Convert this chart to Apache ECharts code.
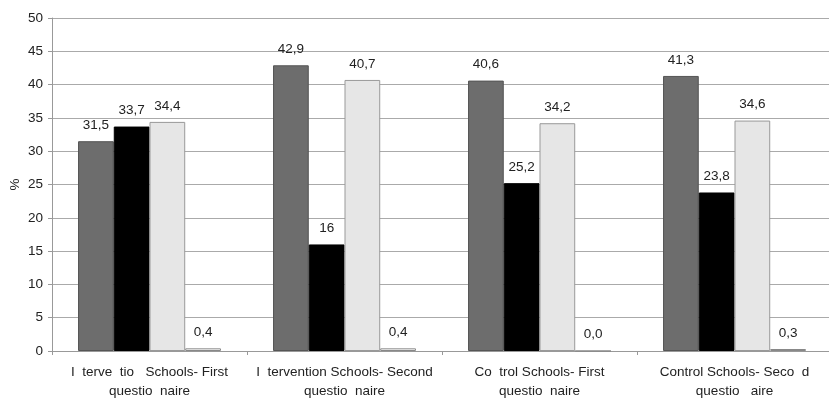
<!DOCTYPE html>
<html><head><meta charset="utf-8">
<script src="https://cdn.jsdelivr.net/npm/echarts@6/dist/echarts.min.js"></script>
<style>html,body{margin:0;padding:0;background:#fff}#c{width:829px;height:399px}</style>
</head><body><div id="c"></div>
<script>
const categories = [
  "I  terve  tio   Schools- First\nquestio  naire",
  "I  tervention Schools- Second\nquestio  naire",
  "Co  trol Schools- First\nquestio  naire",
  "Control Schools- Seco  d\nquestio   aire"
];
const series1 = [31.5, 42.9, 40.6, 41.3];
const series2 = [33.7, 16, 25.2, 23.8];
const series3 = [34.4, 40.7, 34.2, 34.6];
const series4 = [0.4, 0.4, 0.0, 0.3];
const yTicks = [0, 5, 10, 15, 20, 25, 30, 35, 40, 45, 50];

const fmt = p => {
  const v = p.value;
  return (Number.isInteger(v) && v !== 0 ? String(v) : v.toFixed(1)).replace('.', ',');
};
const font = 'Liberation Sans, Arial, sans-serif';
function mk(data, color, border) {
  return {
    type: 'bar', data: data, barGap: '0%', barCategoryGap: '26.7%',
    itemStyle: { color: color, borderColor: border, borderWidth: 1 },
    label: { show: true, position: 'top', distance: 9, formatter: fmt,
             color: '#222', fontSize: 13.5, fontFamily: font },
    animation: false
  };
}
const chart = echarts.init(document.getElementById('c'));
chart.setOption({
  animation: false,
  grid: { left: 52, top: 18, width: 780, bottom: 48, containLabel: false, outerBoundsMode: 'none' },
  xAxis: {
    type: 'category', data: categories,
    axisLine: { lineStyle: { color: '#999' } },
    axisTick: { show: true, length: 4, lineStyle: { color: '#999' } },
    axisLabel: { color: '#222', fontSize: 13.5, fontFamily: font, lineHeight: 19, margin: 12, interval: 0 }
  },
  yAxis: {
    type: 'value', min: yTicks[0], max: yTicks[yTicks.length - 1], interval: 5,
    name: '%', nameLocation: 'middle', nameGap: 30, nameRotate: 90, nameMoveOverlap: false,
    nameTextStyle: { color: '#222', fontSize: 13.5, fontFamily: font },
    axisLine: { show: true, lineStyle: { color: '#999' } },
    axisTick: { show: true, length: 4, lineStyle: { color: '#999' } },
    axisLabel: { color: '#222', fontSize: 13.5, fontFamily: font, margin: 9 },
    splitLine: { lineStyle: { color: '#aaa' } }
  },
  series: [
    mk(series1, '#6d6d6d', '#555'),
    mk(series2, '#000000', '#000'),
    mk(series3, '#e6e6e6', '#999'),
    mk(series4, '#ffffff', '#888')
  ]
});
</script></body></html>
